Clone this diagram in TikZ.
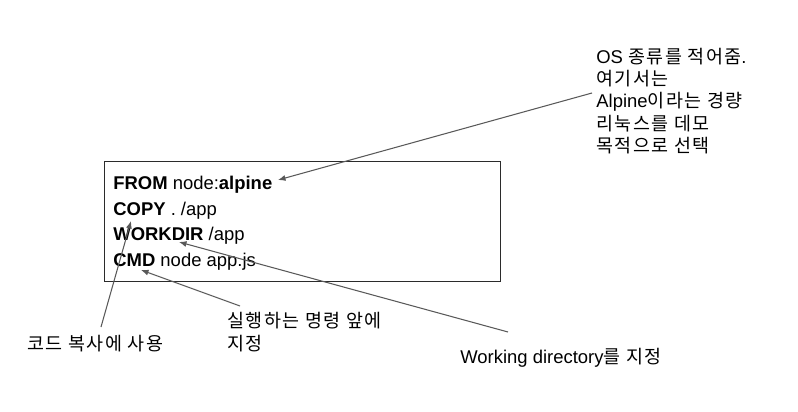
\documentclass[tikz,border=0pt]{standalone}
\usepackage{fontspec}
\setmainfont{Liberation Sans}
\newfontfamily\kofont{Noto Sans CJK KR}[LetterSpace=8]
\usetikzlibrary{arrows.meta}
\definecolor{ink}{HTML}{000000}
\definecolor{framegray}{HTML}{2B2B2B}
\definecolor{arrowgray}{HTML}{595959}
\newcommand{\ko}[1]{{\kofont #1}}
\tikzset{
  >={Latex[length=1.5mm,width=1.2mm]},
  filebox/.style={draw=framegray,line width=.75pt,inner sep=0pt},
  cmdline/.style={anchor=base west,inner sep=0pt,font=\fontsize{10.5}{14.6}\selectfont,text=ink},
  note/.style={anchor=base west,inner sep=0pt,align=left,font=\fontsize{10.5}{12.7}\selectfont,text=ink},
  pointer/.style={->,line width=.6pt,color=arrowgray},
}

\begin{document}
\begin{tikzpicture}[x=0.02cm,y=-0.02cm]
  \useasboundingbox (0,0) rectangle (798,412);
  % the Dockerfile
  \node[filebox,anchor=north west,minimum width=7.92cm,minimum height=2.4cm] (dockerfile) at (104,161) {};
  \node[cmdline] (from) at (113,190) {\textbf{FROM} node:\textbf{alpine}};
  \node[cmdline] (copy) at (113,215) {\textbf{COPY} . /app};
  \node[cmdline] (workdir) at (113,240.5) {\textbf{WORKDIR} /app};
  \node[cmdline] (cmd) at (113,266.5) {\textbf{CMD} node app.js};
  % notes (base = last line)
  \node[note] (osnote) at (596,152.5) {OS \ko{종류를 적어줌}.\\\ko{여기서는}\\Alpine\ko{이라는 경량}\\\ko{리눅스를 데모}\\\ko{목적으로 선택}};
  \node[note] (copynote) at (27,350) {\ko{코드 복사에 사용}};
  \node[note] (cmdnote) at (227,350) {\ko{실행하는 명령 앞에}\\\ko{지정}};
  \node[note] (workdirnote) at (460,363) {Working directory\ko{를 지정}};
  % pointers
  \coordinate (ostail) at (592,93);
  \coordinate (fromtip) at (278,180);
  \coordinate (copytail) at (101,327);
  \coordinate (copytip) at (131,221);
  \coordinate (cmdtail) at (240,306);
  \coordinate (cmdtip) at (141,270);
  \coordinate (workdirtail) at (508,332);
  \coordinate (workdirtip) at (179,242);
  \draw[pointer] (ostail) -- (fromtip);
  \draw[pointer] (copytail) -- (copytip);
  \draw[pointer] (cmdtail) -- (cmdtip);
  \draw[pointer] (workdirtail) -- (workdirtip);
\end{tikzpicture}
\end{document}
